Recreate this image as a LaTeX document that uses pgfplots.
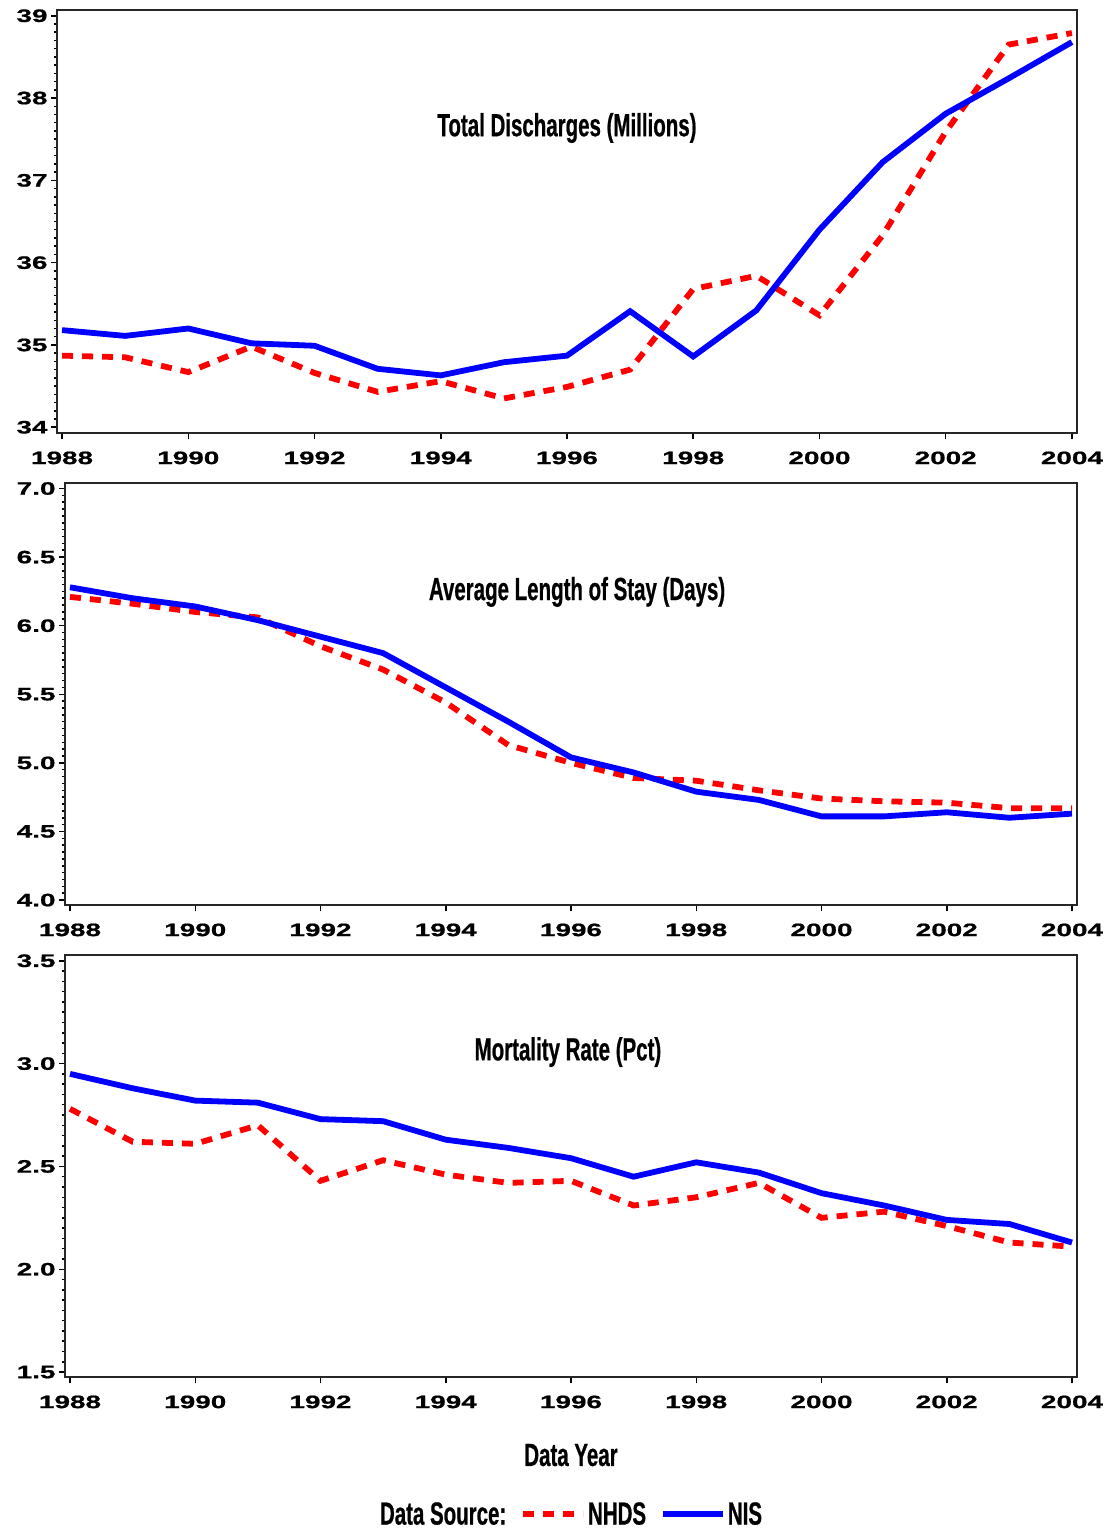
\documentclass[border=0pt]{standalone}
\usepackage{fontspec}
\setmainfont{Liberation Sans}
\newfontfamily\tickfont[FakeStretch=1.55,FakeBold=0.8]{Liberation Sans}
\newfontfamily\titlefont[FakeStretch=0.64,FakeBold=0.6]{Liberation Sans}
\usepackage{pgfplots}
\pgfplotsset{compat=1.18}
\definecolor{nhdsred}{RGB}{255,0,0}
\definecolor{nisblue}{RGB}{0,0,255}
\newcommand{\tfont}{\titlefont\fontsize{32bp}{36bp}\selectfont\bfseries}
\pgfplotsset{
 panel/.style={
  scale only axis, anchor=north west,
  xmin=1987.92, xmax=2004.08,
  xtick={1988,1990,...,2004},
  tick align=outside, xtick pos=lower, ytick pos=lower,
  minor y tick num=9,
  major tick length=6bp, minor tick length=3.5bp,
  axis line style={line width=1.3bp, black!85},
  tick style={black, line width=1.5bp},
  tick label style={font=\tickfont\fontsize{18bp}{20bp}\selectfont\bfseries},
  /pgf/number format/assume math mode=true,
  xticklabel style={/pgf/number format/1000 sep={}, yshift=-9bp},
 },
 nhds/.style={color=nhdsred, line width=5.8bp, dash pattern=on 11bp off 9bp, no marks},
 nis/.style={color=nisblue, line width=5.8bp, no marks},
}
\begin{document}
\begin{tikzpicture}
\path[use as bounding box] (0,0) rectangle (1111bp,-1535bp);
% Panel 1
\begin{axis}[panel, at={(57bp,-10bp)}, width=1020bp, height=423bp,
  ymin=33.93, ymax=39.07, ytick={34,35,...,39}]
\addplot[nhds] coordinates {(1988,34.87)(1989,34.85)(1990,34.67)(1991,34.98)(1992,34.66)(1993,34.43)(1994,34.56)(1995,34.35)(1996,34.49)(1997,34.70)(1998,35.68)(1999,35.84)(2000,35.36)(2001,36.33)(2002,37.59)(2003,38.65)(2004,38.79)};
\addplot[nis] coordinates {(1988,35.18)(1989,35.11)(1990,35.20)(1991,35.02)(1992,34.99)(1993,34.71)(1994,34.63)(1995,34.79)(1996,34.87)(1997,35.41)(1998,34.86)(1999,35.42)(2000,36.40)(2001,37.22)(2002,37.81)(2003,38.24)(2004,38.68)};
\node[font=\tfont] at (rel axis cs:0.5,0.721) {Total Discharges (Millions)};
\end{axis}
% Panel 2
\begin{axis}[panel, at={(65bp,-483bp)}, width=1012bp, height=422bp,
  ymin=3.964, ymax=7.04, ytick={4,4.5,...,7},
  yticklabel style={/pgf/number format/.cd, fixed, fixed zerofill, precision=1}]
\addplot[nhds] coordinates {(1988,6.21)(1989,6.16)(1990,6.10)(1991,6.06)(1992,5.85)(1993,5.68)(1994,5.44)(1995,5.13)(1996,5.00)(1997,4.89)(1998,4.87)(1999,4.80)(2000,4.74)(2001,4.72)(2002,4.71)(2003,4.67)(2004,4.67)};
\addplot[nis] coordinates {(1988,6.28)(1989,6.20)(1990,6.14)(1991,6.04)(1992,5.92)(1993,5.80)(1994,5.55)(1995,5.30)(1996,5.04)(1997,4.93)(1998,4.79)(1999,4.73)(2000,4.61)(2001,4.61)(2002,4.64)(2003,4.60)(2004,4.63)};
\node[font=\tfont] at (rel axis cs:0.506,0.742) {Average Length of Stay (Days)};
\end{axis}
% Panel 3
\begin{axis}[panel, at={(65bp,-955bp)}, width=1012bp, height=422bp,
  ymin=1.476, ymax=3.528, ytick={1.5,2,...,3.5},
  yticklabel style={/pgf/number format/.cd, fixed, fixed zerofill, precision=1},
  xlabel={Data Year},
  every axis x label/.style={at={(0.5,-0.185)}, anchor=center, font=\tfont},
  legend columns=-1,
  legend style={at={(0.5,-0.325)}, anchor=center, draw=none, fill=none, font=\tfont,
    /tikz/every even column/.append style={column sep=12bp}},
  legend image code/.code={\draw[#1] (0bp,0bp) -- (60bp,0bp);}]
\addlegendimage{empty legend}
\addplot[nhds] coordinates {(1988,2.78)(1989,2.62)(1990,2.61)(1991,2.70)(1992,2.43)(1993,2.53)(1994,2.46)(1995,2.42)(1996,2.43)(1997,2.31)(1998,2.35)(1999,2.42)(2000,2.25)(2001,2.28)(2002,2.21)(2003,2.13)(2004,2.11)};
\addplot[nis] coordinates {(1988,2.95)(1989,2.88)(1990,2.82)(1991,2.81)(1992,2.73)(1993,2.72)(1994,2.63)(1995,2.59)(1996,2.54)(1997,2.45)(1998,2.52)(1999,2.47)(2000,2.37)(2001,2.31)(2002,2.24)(2003,2.22)(2004,2.13)};
\legend{Data Source:, NHDS, NIS}
\node[font=\tfont] at (rel axis cs:0.497,0.770) {Mortality Rate (Pct)};
\end{axis}
\end{tikzpicture}
\end{document}
